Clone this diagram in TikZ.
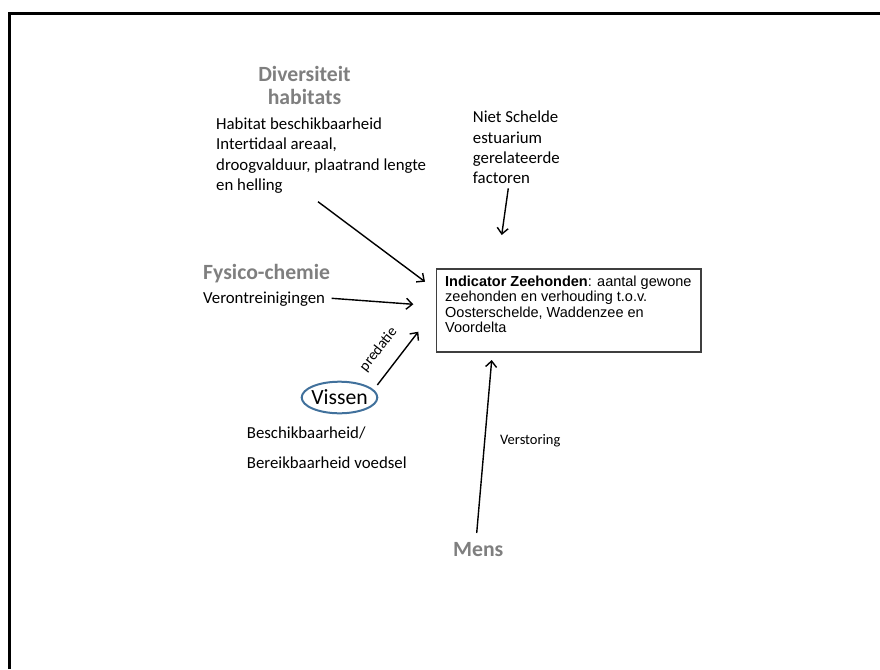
\documentclass[tikz,border=0pt]{standalone}
\usepackage{fontspec}
\setmainfont{Carlito}
\newfontfamily\arialfont{Liberation Sans}
\usetikzlibrary{arrows.meta,shapes.geometric}
\definecolor{headgray}{HTML}{7F7F7F}
\definecolor{ovalblue}{HTML}{41719C}
\definecolor{boxgray}{HTML}{3F3F3F}

\begin{document}
\begin{tikzpicture}[x=1pt,y=-1pt,
  body/.style={font=\fontsize{16.8}{20.3}\selectfont, inner sep=0pt, align=left},
  head/.style={font=\bfseries\fontsize{21.7}{22.3}\selectfont, text=headgray, inner sep=0pt},
  small/.style={font=\fontsize{14.5}{17}\selectfont, inner sep=0pt},
  arr/.style={-{Straight Barb[length=6pt,width=11pt]}, line width=1.4pt},
]
\useasboundingbox (0,0) rectangle (880,669);

% outer frame (left and top edges)
\draw[line width=3pt, line join=miter] (9.5,669) -- (9.5,13.5) -- (880,13.5);

% factor labels (multi-line nodes are placed by the baseline of their last line)
\node[head, align=center, anchor=base] (divh) at (304.5,104) {Diversiteit\\habitats};
\node[body, anchor=base west] (hab) at (216,190.5)
  {Habitat beschikbaarheid\\Intertidaal areaal,\\droogvalduur, plaatrand lengte\\en helling};
\node[body, anchor=base west] (niet) at (472.7,183.6)
  {Niet Schelde\\estuarium\\gerelateerde\\factoren};
\node[head, anchor=base west] (fys) at (203,279.3) {Fysico-chemie};
\node[body, anchor=base west] (veront) at (203,303) {Verontreinigingen};
\node[ellipse, draw=ovalblue, line width=2pt, inner xsep=-1.5pt, inner ysep=0pt,
      minimum width=75.6pt, minimum height=31.6pt,
      font=\fontsize{21.7}{22}\selectfont] (vis) at (339.5,397.5) {Vissen};
\node[body, anchor=base west, font=\fontsize{16.8}{30}\selectfont] (voedsel) at (246.7,468.3)
  {Beschikbaarheid/\\Bereikbaarheid voedsel};
\node[head, anchor=base west] (mens) at (453,556) {Mens};

% indicator box
\node[draw=boxgray, line width=1.5pt, minimum width=264.5pt, minimum height=83pt,
      anchor=north west, inner sep=0pt] (ind) at (435.5,268) {};
\node[font={\arialfont\fontsize{14.5}{15.2}\selectfont}, anchor=base west, align=left,
      inner sep=0pt] (indtext) at (445,332.3)
  {\textbf{Indicator Zeehonden}: aantal gewone\\zeehonden en verhouding t.o.v.\\Oosterschelde, Waddenzee en\\Voordelta};

% arrow ends
\coordinate (habA) at (318,201.7);   \coordinate (habB) at (425,281.7);
\coordinate (nietA) at (508.3,188.3); \coordinate (nietB) at (501.7,235);
\coordinate (verA) at (331.7,298.3);  \coordinate (verB) at (413.3,304.3);
\coordinate (visA) at (377.3,385);    \coordinate (visB) at (418.3,331.7);
\coordinate (mensA) at (476.7,533);   \coordinate (mensB) at (491.7,360);

\draw[arr] (habA) -- (habB);
\draw[arr] (nietA) -- (nietB);
\draw[arr] (verA) -- (verB);
\draw[arr] (visA) -- (visB);
\draw[arr] (mensA) -- (mensB);

% arrow labels
\node[inner sep=0pt, rotate=52, font=\fontsize{15}{17}\selectfont] (pred) at (378.5,349.5) {predatie};
\node[small, anchor=base west] (verst) at (500,444) {Verstoring};
\end{tikzpicture}
\end{document}
